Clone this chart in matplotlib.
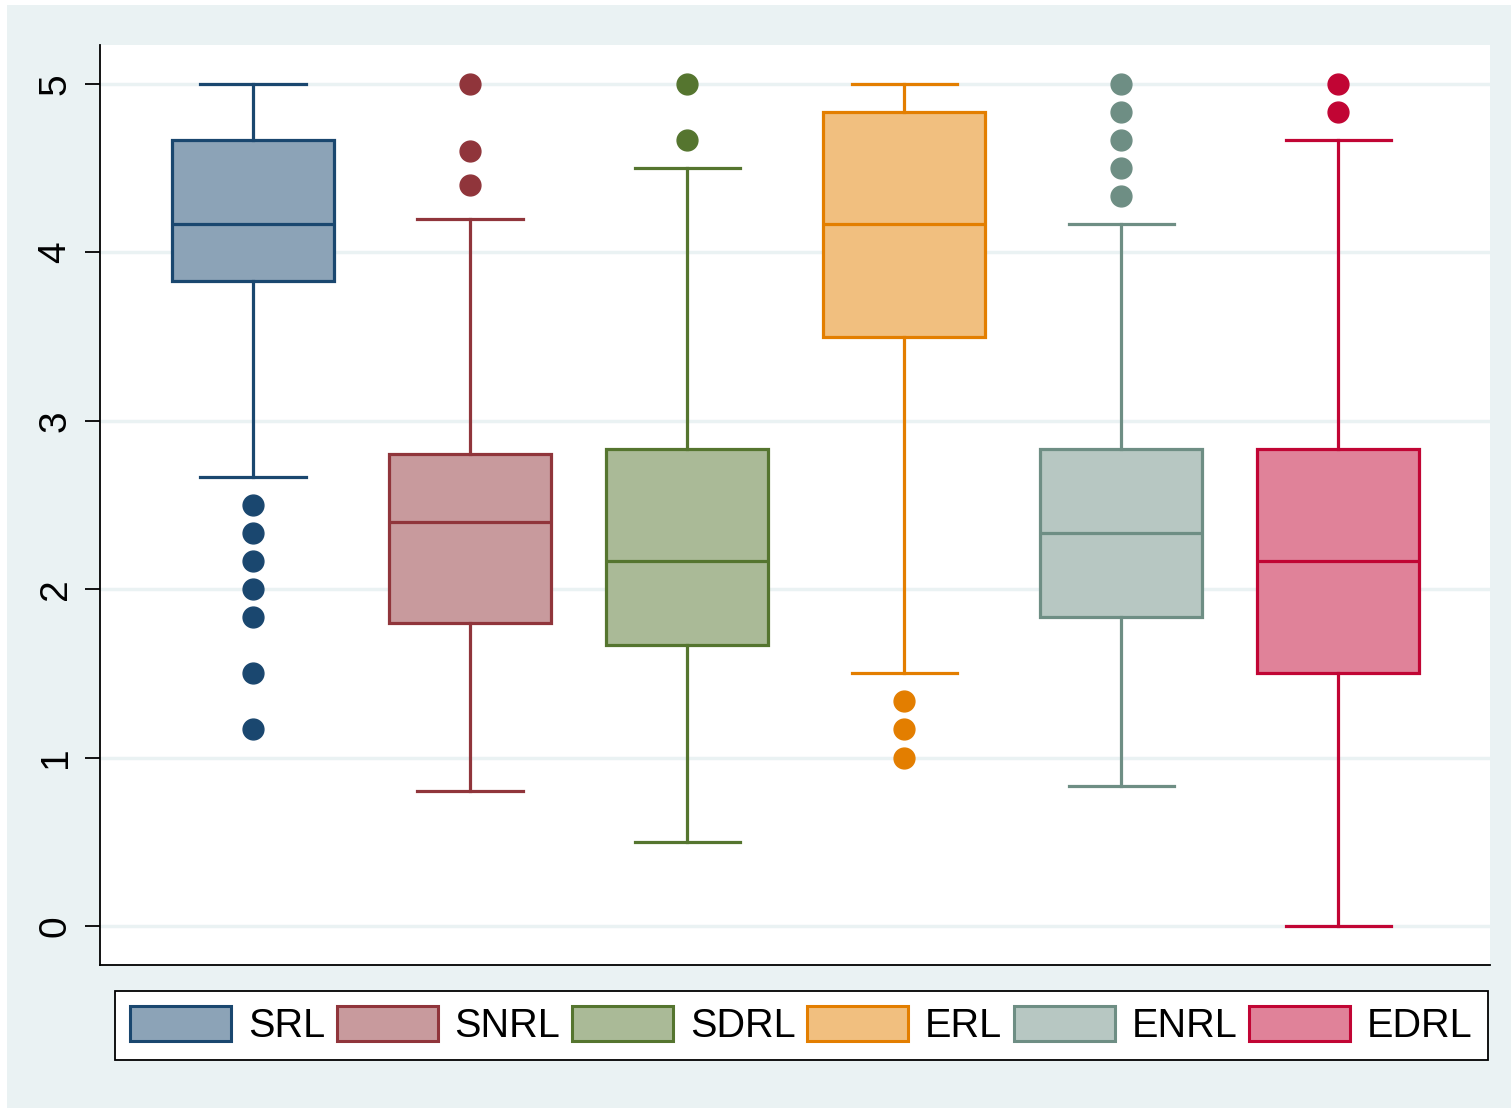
import matplotlib
matplotlib.use("Agg")
import matplotlib.pyplot as plt
from matplotlib.patches import Rectangle, Patch

plt.rcParams['font.family'] = ['Liberation Sans', 'DejaVu Sans']

labels = ["SRL", "SNRL", "SDRL", "ERL", "ENRL", "EDRL"]
whislo = [2.667, 0.8, 0.5, 1.5, 0.833, 0.0]
q1 = [3.833, 1.8, 1.667, 3.5, 1.833, 1.5]
med = [4.167, 2.4, 2.167, 4.167, 2.333, 2.167]
q3 = [4.667, 2.8, 2.833, 4.833, 2.833, 2.833]
whishi = [5.0, 4.2, 4.5, 5.0, 4.167, 4.667]
fliers = [
    [2.5, 2.333, 2.167, 2.0, 1.833, 1.5, 1.167],
    [4.4, 4.6, 5.0],
    [4.667, 5.0],
    [1.333, 1.167, 1.0],
    [4.333, 4.5, 4.667, 4.833, 5.0],
    [4.833, 5.0],
]
edge_colors = ["#1A476F", "#90353B", "#55752F", "#E37E00", "#6E8E84", "#C10534"]
fill_colors = ["#8CA3B7", "#C89A9D", "#AABA97", "#F1BF7F", "#B7C7C2", "#E08299"]

W, H = 1511, 1108
bg = "#EAF2F3"
fig = plt.figure(figsize=(W / 100, H / 100), dpi=100, facecolor="white")
fig.patches.append(Rectangle((7 / W, 0), 1 - 7 / W, 1 - 5 / H, transform=fig.transFigure,
                             facecolor=bg, edgecolor="none", zorder=-10))

ax = fig.add_axes([100 / W, 1 - 965 / H, 1390 / W, 920 / H])
ax.set_facecolor("white")

stats = []
for i in range(len(labels)):
    stats.append(dict(whislo=whislo[i], q1=q1[i], med=med[i], q3=q3[i],
                      whishi=whishi[i], fliers=fliers[i], label=labels[i]))

positions = list(range(1, len(labels) + 1))
bp = ax.bxp(stats, positions=positions, widths=0.75, patch_artist=True,
            showfliers=True, manage_ticks=False)
lw = 2.3
for i in range(len(labels)):
    c = edge_colors[i]
    bp['boxes'][i].set(facecolor=fill_colors[i], edgecolor=c, linewidth=lw, zorder=3)
    bp['medians'][i].set(color=c, linewidth=lw, zorder=4)
    for k in (2 * i, 2 * i + 1):
        bp['whiskers'][k].set(color=c, linewidth=lw, zorder=3)
        bp['caps'][k].set(color=c, linewidth=lw, zorder=3)
        bp['caps'][k].set_xdata([positions[i] - 0.242, positions[i] + 0.242])
    bp['fliers'][i].set(marker='o', markerfacecolor=c, markeredgecolor=c,
                        markersize=15, zorder=5)

ax.set_xlim(0.295, 6.70)
ax.set_ylim(-0.232, 5.232)
ax.set_yticks([0, 1, 2, 3, 4, 5])
ax.set_yticklabels(["0", "1", "2", "3", "4", "5"], rotation=90, va="center", fontsize=28)
ax.tick_params(axis='y', length=11, width=1.3, pad=8)
ax.set_xticks([])
ax.grid(axis='y', color=bg, linewidth=2.5, zorder=0)
ax.set_axisbelow(True)
for s in ("top", "right"):
    ax.spines[s].set_visible(False)
for s in ("left", "bottom"):
    ax.spines[s].set_linewidth(1.3)
    ax.spines[s].set_color("black")

handles = [Patch(facecolor=fill_colors[i], edgecolor=edge_colors[i], linewidth=2.2)
           for i in range(len(labels))]
leg = fig.legend(handles, labels, loc="center", ncol=6,
                 bbox_to_anchor=((113 + 1490) / 2 / W, 1 - 1025.5 / H),
                 fontsize=28.5, handlelength=2.55, handleheight=1.0, handletextpad=0.42,
                 columnspacing=0.3, borderpad=0.38, borderaxespad=0, fancybox=False,
                 frameon=True, edgecolor="black", framealpha=1)
leg.get_frame().set_linewidth(1.3)

fig.savefig("out.png", dpi=100, facecolor=fig.get_facecolor())
